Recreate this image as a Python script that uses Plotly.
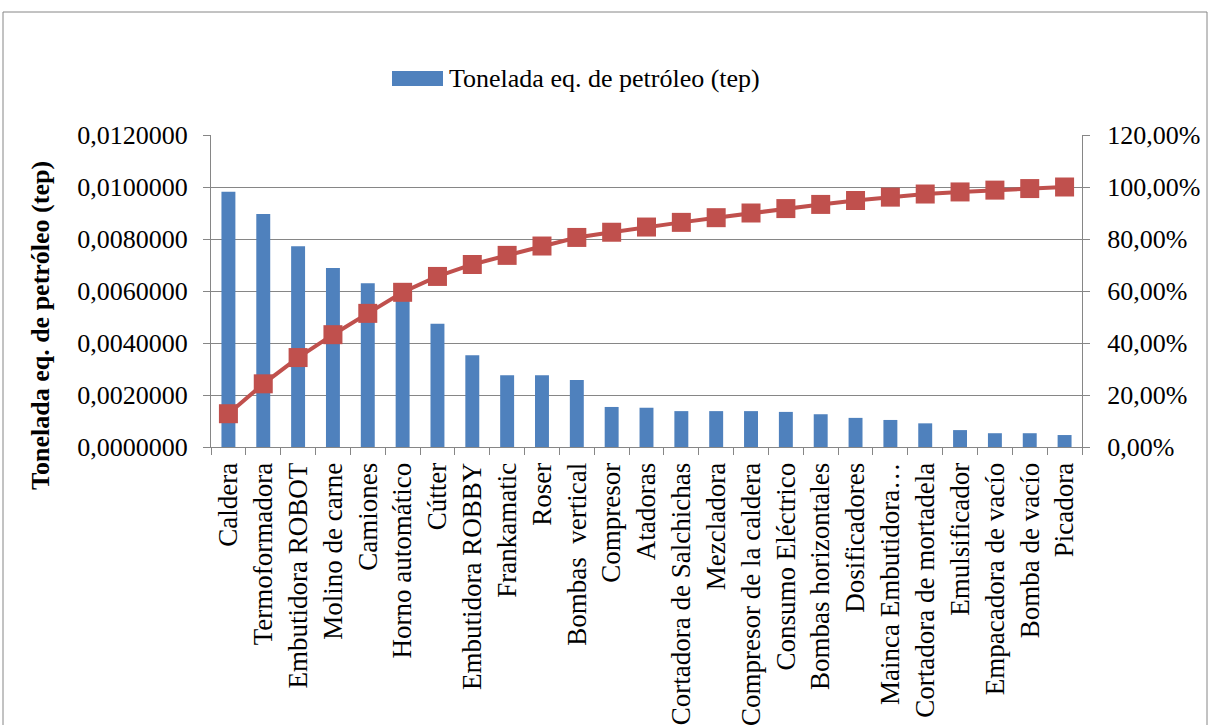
import plotly.graph_objects as go

# Equipos ordenados por consumo (diagrama de Pareto)
equipos = [
    "Caldera", "Termoformadora", "Embutidora ROBOT", "Molino de carne", "Camiones",
    "Horno automático", "Cútter", "Embutidora ROBBY", "Frankamatic", "Roser",
    "Bombas\u00a0 vertical", "Compresor", "Atadoras", "Cortadora de Salchichas", "Mezcladora",
    "Compresor de la caldera", "Consumo Eléctrico", "Bombas horizontales", "Dosificadores",
    "Mainca Embutidora…", "Cortadora de mortadela", "Emulsificador", "Empacadora de vacío",
    "Bomba de vacío", "Picadora",
]

# Tonelada equivalente de petróleo por equipo
tep = [
    0.00982, 0.00896, 0.00772, 0.00688, 0.00630,
    0.00610, 0.00474, 0.00353, 0.00276, 0.00276,
    0.00258, 0.00154, 0.00151, 0.00138, 0.00138,
    0.00138, 0.00135, 0.00126, 0.00112, 0.00104,
    0.00091, 0.00065, 0.00053, 0.00053, 0.00046,
]

# Porcentaje acumulado
acumulado = [
    0.128, 0.243, 0.344, 0.432, 0.514,
    0.595, 0.656, 0.702, 0.737, 0.773,
    0.806, 0.826, 0.846, 0.864, 0.882,
    0.900, 0.917, 0.933, 0.948, 0.961,
    0.973, 0.981, 0.988, 0.994, 1.000,
]

y_left_ticks = [0, 0.002, 0.004, 0.006, 0.008, 0.010, 0.012]
y_right_ticks = [0, 0.2, 0.4, 0.6, 0.8, 1.0, 1.2]

FONT = "Liberation Serif, Times New Roman, serif"
GRAY = "#868686"
BLUE = "#4F81BD"
RED = "#C0504D"

# Plot-area geometry in pixels
W, H = 1210, 725
L, R, T, B = 211, 1082, 135, 447


def px_x(x):
    return (x - L) / (R - L)


def px_y(y):
    return (B - y) / (B - T)


fig = go.Figure()

fig.add_trace(go.Bar(
    x=equipos, y=tep, name="Tonelada eq. de petróleo (tep)",
    marker=dict(color=BLUE, line=dict(width=0)),
    yaxis="y", showlegend=False,
))

fig.add_trace(go.Scatter(
    x=equipos, y=acumulado, mode="lines+markers", name="Acumulado",
    line=dict(color=RED, width=4),
    marker=dict(symbol="square", size=19, color=RED),
    yaxis="y2", showlegend=False,
))

fig.update_layout(
    width=W, height=H, autosize=False,
    margin=dict(l=L, r=W - R, t=T, b=H - B, pad=0),
    paper_bgcolor="white", plot_bgcolor="white",
    separators=",.",
    bargap=0.6,
    font=dict(family=FONT, size=26, color="black"),
    xaxis=dict(
        type="category", range=[-0.5, len(equipos) - 0.5],
        tickmode="array", tickvals=equipos, ticktext=equipos,
        tickangle=-90, tickson="boundaries",
        ticks="outside", ticklen=7, tickcolor=GRAY, tickwidth=1,
        showline=True, linecolor=GRAY, linewidth=1,
        showgrid=False, automargin=False,
        tickfont=dict(family=FONT, size=27, color="black"),
        ticklabelstandoff=4,
    ),
    yaxis=dict(
        range=[0, 0.012], tickvals=y_left_ticks, tickformat=".7f",
        ticks="outside", ticklen=7, tickcolor=GRAY, tickwidth=1,
        showline=True, linecolor=GRAY, linewidth=1,
        showgrid=True, gridcolor=GRAY, gridwidth=1, zeroline=False,
        automargin=False, ticklabelstandoff=10,
        tickfont=dict(family=FONT, size=26, color="black"),
    ),
    yaxis2=dict(
        range=[0, 1.2], tickvals=y_right_ticks, tickformat=".2%",
        overlaying="y", side="right",
        ticks="outside", ticklen=7, tickcolor=GRAY, tickwidth=1,
        showline=True, linecolor=GRAY, linewidth=1,
        showgrid=False, zeroline=False, automargin=False,
        ticklabelstandoff=12,
        tickfont=dict(family=FONT, size=26, color="black"),
    ),
    shapes=[
        # chart frame
        dict(type="rect", xref="paper", yref="paper",
             x0=px_x(3), x1=px_x(1207), y0=px_y(760), y1=px_y(12),
             line=dict(color=GRAY, width=1), fillcolor="rgba(0,0,0,0)", layer="below"),
        # legend swatch
        dict(type="rect", xref="paper", yref="paper",
             x0=px_x(392), x1=px_x(443), y0=px_y(86), y1=px_y(71),
             line=dict(width=0), fillcolor=BLUE),
    ],
    annotations=[
        dict(text="Tonelada eq. de petróleo (tep)", xref="paper", yref="paper",
             x=px_x(447), y=px_y(78), xanchor="left", yanchor="middle",
             showarrow=False, font=dict(family=FONT, size=26, color="black")),
        dict(text="<b>Tonelada eq. de petróleo (tep)</b>", xref="paper", yref="paper",
             x=px_x(40), y=px_y(326), xanchor="center", yanchor="middle",
             textangle=-90, showarrow=False,
             font=dict(family=FONT, size=26, color="black")),
    ],
)

fig.write_html("out.html")
